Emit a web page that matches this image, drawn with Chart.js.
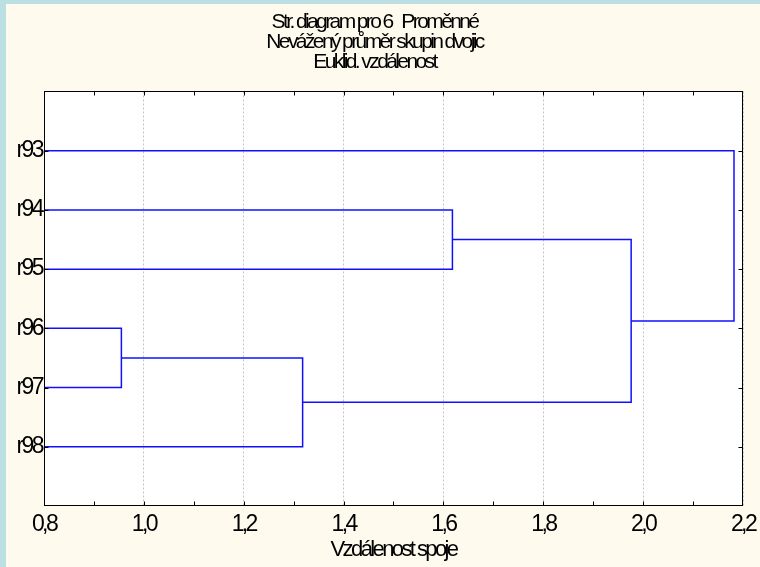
<!DOCTYPE html>
<html>
<head>
<meta charset="utf-8">
<script src="https://cdn.jsdelivr.net/npm/chart.js@4/dist/chart.umd.min.js"></script>
<style>
  html, body { margin: 0; padding: 0; background: #bcdfe3; }
  body { width: 760px; height: 567px; overflow: hidden; position: relative; }
  #wrap { position: absolute; left: 6px; top: 4px; width: 754px; height: 563px; background: #fffaee; }
  canvas { display: block; }
</style>
</head>
<body>
<div id="wrap"><canvas id="c" width="754" height="563"></canvas></div>
<script>
// Leaves of the tree, top to bottom
const leaves = ['r93', 'r94', 'r95', 'r96', 'r97', 'r98'];

// Agglomeration steps: clusters 0..5 are the leaves, step k creates cluster 6+k
const mergeFirst  = [3, 6, 1, 8, 0];
const mergeSecond = [4, 5, 2, 7, 9];
const mergeDist   = [0.955, 1.318, 1.618, 1.976, 2.182];

// Distance axis
const xMin = 0.8, xMax = 2.2, xStep = 0.2, xMinorStep = 0.1;
const xTitle = 'Vzdálenost spoje';
const titleLines = ['Str. diagram pro 6   Proměnné', 'Nevážený průměr skupin dvojic', 'Euklid. vzdálenost'];

const FONT = '"Liberation Sans", Arial, Helvetica, sans-serif';
const TIGHT = '-2.6px';   // condensed lettering used for every label

// Build position / height of every cluster and one U-shaped link per step
const pos = leaves.map((_, i) => i + 1);
const height = leaves.map(() => 0);
const links = [];
mergeDist.forEach((d, k) => {
  const a = mergeFirst[k], b = mergeSecond[k];
  links.push([
    { x: height[a], y: pos[a] },
    { x: d, y: pos[a] },
    { x: d, y: pos[b] },
    { x: height[b], y: pos[b] }
  ]);
  pos.push((pos[a] + pos[b]) / 2);
  height.push(d);
});

const fmt = v => v.toFixed(1).replace('.', ',');

const framePlugin = {
  id: 'frame',
  beforeUpdate(chart) { chart.ctx.letterSpacing = TIGHT; },
  beforeDraw(chart) {
    const { ctx, chartArea: a } = chart;
    ctx.letterSpacing = TIGHT;
    ctx.save();
    ctx.fillStyle = '#ffffff';
    ctx.fillRect(a.left, a.top, a.right - a.left, a.bottom - a.top);
    ctx.restore();
  },
  afterDraw(chart) {
    const { ctx, chartArea: a, scales } = chart;
    const L = Math.round(a.left) + 0.5, R = Math.round(a.right) - 0.5;
    const T = Math.round(a.top) + 0.5, B = Math.round(a.bottom) - 0.5;
    ctx.save();
    ctx.strokeStyle = '#000000';
    ctx.lineWidth = 1;
    ctx.strokeRect(L, T, R - L, B - T);
    ctx.beginPath();
    // inner ticks on the distance axis, top and bottom
    const n = Math.round((xMax - xMin) / xMinorStep);
    for (let i = 1; i < n; i++) {
      const x = Math.round(scales.x.getPixelForValue(xMin + i * xMinorStep)) + 0.5;
      ctx.moveTo(x, B); ctx.lineTo(x, B - 4);
      ctx.moveTo(x, T); ctx.lineTo(x, T + 4);
    }
    // inner ticks at each leaf, left and right
    leaves.forEach((_, i) => {
      const y = Math.round(scales.y.getPixelForValue(i + 1)) + 0.5;
      ctx.moveTo(L, y); ctx.lineTo(L + 4, y);
      ctx.moveTo(R, y); ctx.lineTo(R - 4, y);
    });
    ctx.stroke();
    ctx.restore();
  }
};

new Chart(document.getElementById('c'), {
  type: 'scatter',
  data: {
    datasets: links.map(pts => ({
      data: pts,
      showLine: true,
      borderColor: '#1010ff',
      borderWidth: 1.5,
      pointRadius: 0,
      tension: 0,
      fill: false
    }))
  },
  options: {
    responsive: false,
    animation: false,
    events: [],
    layout: { padding: { left: 0, right: 17, top: 0, bottom: 0 } },
    plugins: {
      legend: { display: false },
      tooltip: { enabled: false },
      title: {
        display: true,
        text: titleLines,
        color: '#000000',
        font: { family: FONT, size: 21, weight: 'normal', lineHeight: 0.96 },
        padding: { top: 8, bottom: 19 }
      }
    },
    scales: {
      x: {
        type: 'linear',
        min: xMin, max: xMax,
        afterFit(s) { s.height = 61; s.paddingLeft = 0; s.paddingRight = 0; },
        grid: { color: '#c4c4c4', lineWidth: 1, drawTicks: false },
        border: { display: false, dash: [2, 2] },
        ticks: {
          stepSize: xStep,
          padding: 5,
          color: '#000000',
          font: { family: FONT, size: 23 },
          callback: v => fmt(v),
          maxRotation: 0,
          autoSkip: false
        },
        title: {
          display: true,
          text: xTitle,
          color: '#000000',
          font: { family: FONT, size: 22 },
          padding: { top: 2 }
        }
      },
      y: {
        type: 'linear',
        min: 0, max: leaves.length + 1,
        reverse: true,
        afterFit(s) { s.width = 38; },
        grid: { display: false, drawTicks: false },
        border: { display: false },
        ticks: {
          stepSize: 1,
          padding: 2,
          color: '#000000',
          font: { family: FONT, size: 23 },
          callback: v => leaves[v - 1] || ''
        }
      }
    }
  },
  plugins: [framePlugin]
});
</script>
</body>
</html>
